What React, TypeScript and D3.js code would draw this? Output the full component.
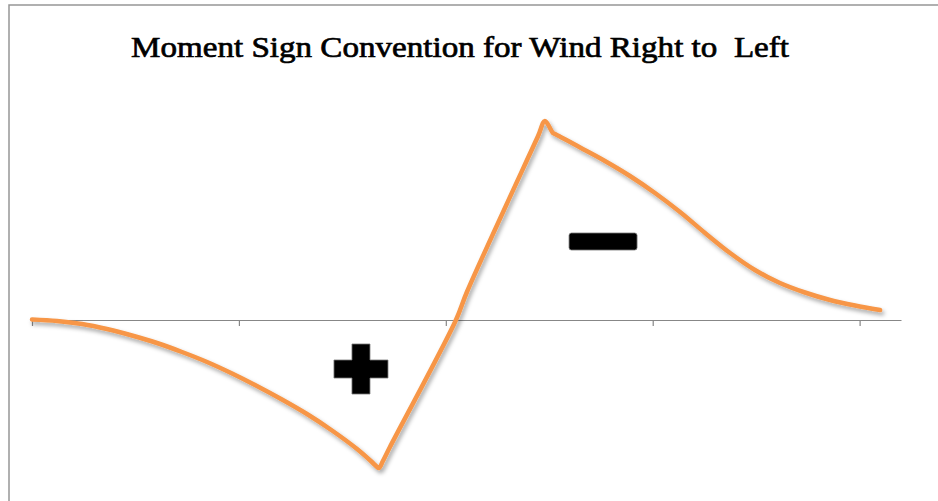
import * as d3 from "d3";
import { useEffect, useRef } from "react";

// moment curve, x in category units (ticks 0..4), y in moment units
const xs = [
  0, 0.121, 0.242, 0.362, 0.483, 0.604, 0.725, 0.846, 0.967, 1.087, 1.208, 1.329, 1.45, 1.571, 1.643, 1.658, 1.677,
  1.696, 1.73, 2.049, 2.102, 2.446, 2.479, 2.518, 2.528, 2.649, 2.769, 2.89, 3.011, 3.132, 3.253, 3.374, 3.494, 3.615,
  3.736, 3.857, 3.978, 4.099,
];
const moments = [
  0.005, -0.01, -0.04, -0.09, -0.155, -0.23, -0.32, -0.42, -0.535, -0.66, -0.795, -0.94, -1.105, -1.29, -1.42, -1.45,
  -1.48, -1.41, -1.27, 0, 0.28, 1.84, 1.99, 1.87, 1.86, 1.725, 1.59, 1.44, 1.27, 1.08, 0.87, 0.67, 0.5, 0.37, 0.275, 0.2,
  0.145, 0.1,
];
const tickValues = [0, 1, 2, 3, 4];

// sign markers: [x, y] centres
const plusAt = [1.59, -0.49];
const minusAt = [2.76, 0.785];

const TITLE = "Moment Sign Convention for Wind Right to  Left";

export default function App() {
  const ref = useRef<SVGSVGElement | null>(null);

  useEffect(() => {
    const el = ref.current;
    if (!el) return;
    const svg = d3.select(el);
    svg.selectAll("*").remove();

    const W = 938;
    const H = 501;

    const x = d3.scaleLinear().domain([0, 4.2]).range([32, 901]);
    const y = d3.scaleLinear().domain([-1.5, 2]).range([470, 120]);

    const defs = svg.append("defs");
    const f = defs
      .append("filter")
      .attr("id", "shadow")
      .attr("x", "-10%")
      .attr("y", "-10%")
      .attr("width", "120%")
      .attr("height", "120%");
    f.append("feDropShadow")
      .attr("dx", 2)
      .attr("dy", 3)
      .attr("stdDeviation", 2)
      .attr("flood-color", "#000")
      .attr("flood-opacity", 0.35);

    svg.append("rect").attr("width", W).attr("height", H).attr("fill", "#fff");

    // chart border (right/bottom fall outside the frame)
    svg
      .append("rect")
      .attr("x", 9)
      .attr("y", 5)
      .attr("width", W + 20)
      .attr("height", H + 20)
      .attr("fill", "none")
      .attr("stroke", "#969696")
      .attr("stroke-width", 1.5);

    svg
      .append("text")
      .attr("x", 460)
      .attr("y", 57)
      .attr("text-anchor", "middle")
      .attr("font-family", "'Liberation Serif', serif")
      .attr("font-size", 30)
      .attr("textLength", 658)
      .attr("lengthAdjust", "spacingAndGlyphs")
      .attr("fill", "#000")
      .attr("stroke", "#000")
      .attr("stroke-width", 0.7)
      .attr("xml:space", "preserve")
      .style("white-space", "pre")
      .text(TITLE);

    svg
      .append("g")
      .attr("transform", `translate(0,${y(0)})`)
      .call(
        d3
          .axisBottom(x)
          .tickValues(tickValues)
          .tickSize(6)
          .tickSizeOuter(0)
          .tickFormat(() => ""),
      )
      .call((g) => g.select(".domain").attr("stroke", "#878787").attr("stroke-width", 1.2))
      .call((g) => g.selectAll(".tick line").attr("stroke", "#878787").attr("stroke-width", 1.2));

    const line = d3
      .line<number>()
      .x((_, i) => x(xs[i]))
      .y((d) => y(d))
      .curve(d3.curveCatmullRom.alpha(0.5));

    svg
      .append("path")
      .datum(moments)
      .attr("d", line)
      .attr("fill", "none")
      .attr("stroke", "#F79646")
      .attr("stroke-width", 4.5)
      .attr("stroke-linejoin", "round")
      .attr("stroke-linecap", "round")
      .attr("filter", "url(#shadow)");

    // plus sign
    const pc = [x(plusAt[0]), y(plusAt[1])];
    const hw = 27, hh = 25, t = 9;
    const p = d3.path();
    p.moveTo(pc[0] - t, pc[1] - hh);
    p.lineTo(pc[0] + t, pc[1] - hh);
    p.lineTo(pc[0] + t, pc[1] - t);
    p.lineTo(pc[0] + hw, pc[1] - t);
    p.lineTo(pc[0] + hw, pc[1] + t);
    p.lineTo(pc[0] + t, pc[1] + t);
    p.lineTo(pc[0] + t, pc[1] + hh);
    p.lineTo(pc[0] - t, pc[1] + hh);
    p.lineTo(pc[0] - t, pc[1] + t);
    p.lineTo(pc[0] - hw, pc[1] + t);
    p.lineTo(pc[0] - hw, pc[1] - t);
    p.lineTo(pc[0] - t, pc[1] - t);
    p.closePath();
    svg
      .append("path")
      .attr("d", p.toString())
      .attr("fill", "#000")
      .attr("stroke", "#777")
      .attr("stroke-width", 0.8);

    // minus sign
    const mc = [x(minusAt[0]), y(minusAt[1])];
    svg
      .append("rect")
      .attr("x", mc[0] - 34)
      .attr("y", mc[1] - 8.5)
      .attr("width", 68)
      .attr("height", 17)
      .attr("rx", 2.5)
      .attr("fill", "#000")
      .attr("stroke", "#777")
      .attr("stroke-width", 0.8);
  }, []);

  return (
    <svg
      ref={ref}
      width={938}
      height={501}
      style={{ position: "absolute", left: 0, top: 0, display: "block" }}
    />
  );
}
